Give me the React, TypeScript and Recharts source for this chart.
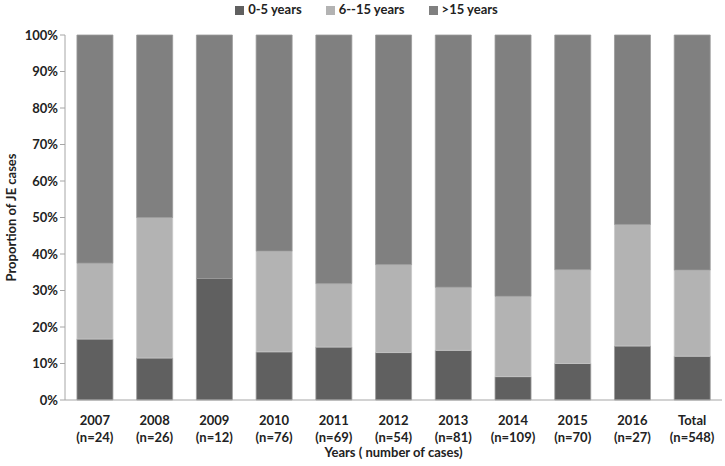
import { BarChart, Bar, XAxis, YAxis, Legend } from "recharts"

const years = ["2007", "2008", "2009", "2010", "2011", "2012", "2013", "2014", "2015", "2016", "Total"]
const counts = ["n=24", "n=26", "n=12", "n=76", "n=69", "n=54", "n=81", "n=109", "n=70", "n=27", "n=548"]
const young = [16.7, 11.5, 33.3, 13.2, 14.5, 13.0, 13.6, 6.4, 10.0, 14.8, 12.0]
const middle = [20.8, 38.5, 0, 27.6, 17.4, 24.1, 17.3, 22.0, 25.7, 33.3, 23.6]
const older = [62.5, 50.0, 66.7, 59.2, 68.1, 62.9, 69.1, 71.6, 64.3, 51.9, 64.4]
const yTicks = [0, 10, 20, 30, 40, 50, 60, 70, 80, 90, 100]

const data = years.map((y, i) => ({
  year: y,
  n: counts[i],
  young: young[i],
  middle: middle[i],
  older: older[i],
}))

const font = "Lato, 'Open Sans', sans-serif"

function YearTick(props: any) {
  const { x, y, payload, index } = props
  return (
    <g transform={`translate(${x},${y})`}>
      <text textAnchor="middle" fill="#222" fontSize={13} fontWeight="bold" fontFamily={font}>
        <tspan x={0} dy={17}>{payload.value}</tspan>
        <tspan x={0} dy={17}>({counts[index]})</tspan>
      </text>
    </g>
  )
}

export default function App() {
  return (
    <div style={{ position: "absolute", left: 0, top: 0, width: 725, height: 466, background: "#fff" }}>
      <BarChart
        width={725}
        height={466}
        data={data}
        margin={{ top: 19, right: 3, bottom: 0, left: 5 }}
        barCategoryGap="20%"
      >
        <Legend
          verticalAlign="top"
          align="center"
          iconType="square"
          iconSize={9}
          wrapperStyle={{ top: 1, left: 20, fontFamily: font, fontSize: 13, fontWeight: "bold", color: "#222" }}
          formatter={(v: string) => <span style={{ color: "#222", marginRight: 14 }}>{v}</span>}
        />
        <XAxis
          dataKey="year"
          height={66}
          interval={0}
          tickLine={false}
          axisLine={{ stroke: "#a6a6a6" }}
          tick={<YearTick />}
          label={{
            value: "Years ( number of cases)",
            position: "insideBottom",
            offset: 9,
            fill: "#222",
            fontSize: 13,
            fontWeight: "bold",
            fontFamily: font,
          }}
        />
        <YAxis
          width={60}
          domain={[0, 100]}
          ticks={yTicks}
          interval={0}
          tickFormatter={(v: number) => `${v}%`}
          axisLine={{ stroke: "#a6a6a6" }}
          tickLine={{ stroke: "#a6a6a6" }}
          tickSize={5}
          tick={{ fill: "#222", fontSize: 13, fontWeight: "bold", fontFamily: font }}
          label={{
            value: "Proportion of JE cases",
            angle: -90,
            position: "insideLeft",
            offset: 6,
            style: { textAnchor: "middle" },
            fill: "#222",
            fontSize: 13,
            fontWeight: "bold",
            fontFamily: font,
          }}
        />
        <Bar dataKey="young" name="0-5 years" stackId="a" fill="#606060" stroke="#9a9a9a" strokeWidth={0.8} isAnimationActive={false} />
        <Bar dataKey="middle" name="6--15 years" stackId="a" fill="#b3b3b3" stroke="#c8c8c8" strokeWidth={0.8} isAnimationActive={false} />
        <Bar dataKey="older" name=">15 years" stackId="a" fill="#808080" stroke="#9a9a9a" strokeWidth={0.8} isAnimationActive={false} />
      </BarChart>
    </div>
  )
}
